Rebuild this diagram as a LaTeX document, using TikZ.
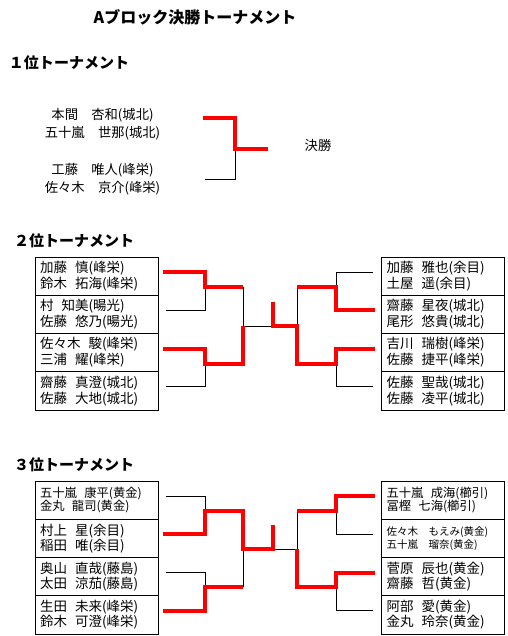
\documentclass[tikz,border=0pt]{standalone}
\usepackage{fontspec}
\setmainfont{Noto Sans CJK JP}
\usepackage{tikz}
\usetikzlibrary{positioning,calc}
\definecolor{winred}{HTML}{FF0000}
\newcommand{\gp}{\hspace{0.6em}}

\begin{document}
\begin{tikzpicture}[x=1pt, y=-1pt,
  every node/.style={inner sep=0pt, outer sep=0pt},
  entry/.style={draw, line width=1pt, minimum width=123pt, minimum height=38.25pt, text width=113pt, align=left, inner xsep=5pt, font=\fontsize{13.5}{16}\selectfont},
  entry3/.style={entry, font=\fontsize{13.5}{15}\selectfont},
  smallentry/.style={entry, font=\fontsize{12.3}{13}\selectfont},
  tinyentry/.style={entry, font=\fontsize{10.5}{12.5}\selectfont},
  pairname/.style={align=center, font=\fontsize{13.3}{18}\selectfont},
  heading/.style={anchor=west, font=\bfseries\fontsize{15}{18}\selectfont},
  lose/.style={line width=1pt},
  win/.style={line width=4.2pt, draw=winred}
]
\fill[white] (0,0) rectangle (507,636);

% titles
\node[font=\bfseries\fontsize{16}{18}\selectfont] (title) at (195,17) {Aブロック決勝トーナメント};
\node[heading] (h1) at (9,63) {１位トーナメント};
\node[heading] (h2) at (14,241) {２位トーナメント};
\node[heading] (h3) at (14,465) {３位トーナメント};

% 1st place
\node[pairname] (p1) at (102.5,124) {本間　杏和(城北)\\五十嵐　世那(城北)};
\node[pairname] (p2) at (102.5,179) {工藤　唯人(峰栄)\\佐々木　京介(峰栄)};
\node[font=\fontsize{13.3}{16}\selectfont] (final) at (318,145) {決勝};
\coordinate (e1) at (203,118);
\coordinate (e2) at (205,180);
\coordinate (j0) at (235,149);
\coordinate (champ) at (268,149);
\draw[lose] (e2) -| (j0);
\draw[win] (e1) -| (j0) -- (champ);

% 2nd place
\node[entry, anchor=north] (a1) at (96.5,257) {加藤\gp 慎(峰栄)\\鈴木\gp 拓海(峰栄)};
\node[entry, below=0pt of a1] (a2) {村\gp 知美(暘光)\\佐藤\gp 悠乃(暘光)};
\node[entry, below=0pt of a2] (a3) {佐々木\gp 駿(峰栄)\\三浦\gp 耀(峰栄)};
\node[entry, below=0pt of a3] (a4) {齋藤\gp 真澄(城北)\\佐藤\gp 大地(城北)};
\node[entry, anchor=north] (b1) at (443,257) {加藤\gp 雅也(余目)\\土屋\gp 遥(余目)};
\node[entry, below=0pt of b1] (b2) {齋藤\gp 星夜(城北)\\尾形\gp 悠貴(城北)};
\node[entry, below=0pt of b2] (b3) {吉川\gp 瑞樹(峰栄)\\佐藤\gp 捷平(峰栄)};
\node[entry, below=0pt of b3] (b4) {佐藤\gp 聖哉(城北)\\佐藤\gp 凌平(城北)};

\coordinate (ja) at (205,287);
\coordinate (jb) at (205,364);
\coordinate (sl) at (243,326);
\coordinate (f2) at (273,326);
\coordinate (t2) at (273,302);
\coordinate (sr) at (297,326);
\coordinate (jc) at (336,287);
\coordinate (jd) at (336,364);

\draw[lose] ($(a2.east)+(8,-4)$) -| (ja);
\draw[lose] (ja -| sl) -- (sl) -- (f2);
\draw[lose] ($(a4.east)+(8,-4)$) -| (jb);
\draw[lose] (sr) -- (sr |- jc);
\draw[lose] (jc) |- ($(b1.west)+(-9,-4)$);
\draw[lose] (jd) |- ($(b4.west)+(-9,-4)$);
\draw[win] ($(a1.east)+(5,-4)$) -| (ja) -- (ja -| sl);
\draw[win] ($(a3.east)+(5,-4)$) -| (jb) -- (jb -| sl) -- (sl);
\draw[win] (sr |- jc) -- (jc) |- ($(b2.west)+(-7,-4)$);
\draw[win] (t2) -- (f2) -- (sr) |- (jd) |- ($(b3.west)+(-7,-4)$);

% 3rd place
\node[smallentry, anchor=north] (c1) at (96.5,481) {五十嵐\gp 康平(黄金)\\金丸\gp 龍司(黄金)};
\node[entry3, below=0pt of c1] (c2) {村上\gp 星(余目)\\稲田\gp 唯(余目)};
\node[entry3, below=0pt of c2] (c3) {奥山\gp 直哉(藤島)\\太田\gp 涼茄(藤島)};
\node[entry3, below=0pt of c3] (c4) {生田\gp 未来(峰栄)\\鈴木\gp 可澄(峰栄)};
\node[smallentry, anchor=north] (d1) at (443,481) {五十嵐\gp 成海(櫛引)\\冨樫\gp 七海(櫛引)};
\node[tinyentry, below=0pt of d1] (d2) {佐々木　もえみ(黄金)\\五十嵐　瑠奈(黄金)};
\node[entry3, below=0pt of d2] (d3) {菅原\gp 辰也(黄金)\\齋藤\gp 哲(黄金)};
\node[entry3, below=0pt of d3] (d4) {阿部\gp 愛(黄金)\\金丸\gp 玲奈(黄金)};

\coordinate (jp) at (205,511);
\coordinate (jq) at (205,587);
\coordinate (sl3) at (243,549);
\coordinate (f3) at (273,549);
\coordinate (t3) at (273,525);
\coordinate (sr3) at (297,549);
\coordinate (jr) at (336,511);
\coordinate (js) at (336,587);

\draw[lose] ($(c1.east)+(8,-4)$) -| (jp);
\draw[lose] ($(c3.east)+(8,-4)$) -| (jq);
\draw[lose] (jq -| sl3) -- (sl3);
\draw[lose] (f3) -- (sr3) -- (sr3 |- jr);
\draw[lose] (jr) |- ($(d2.west)+(-9,-4)$);
\draw[lose] (js) |- ($(d4.west)+(-9,-4)$);
\draw[win] ($(c2.east)+(5,-4)$) -| (jp) -- (jp -| sl3) -- (sl3) -- (f3) -- (t3);
\draw[win] ($(c4.east)+(5,-4)$) -| (jq) -- (jq -| sl3);
\draw[win] (sr3 |- jr) -- (jr) |- ($(d1.west)+(-7,-4)$);
\draw[win] (sr3) |- (js) |- ($(d3.west)+(-7,-4)$);
\end{tikzpicture}
\end{document}
